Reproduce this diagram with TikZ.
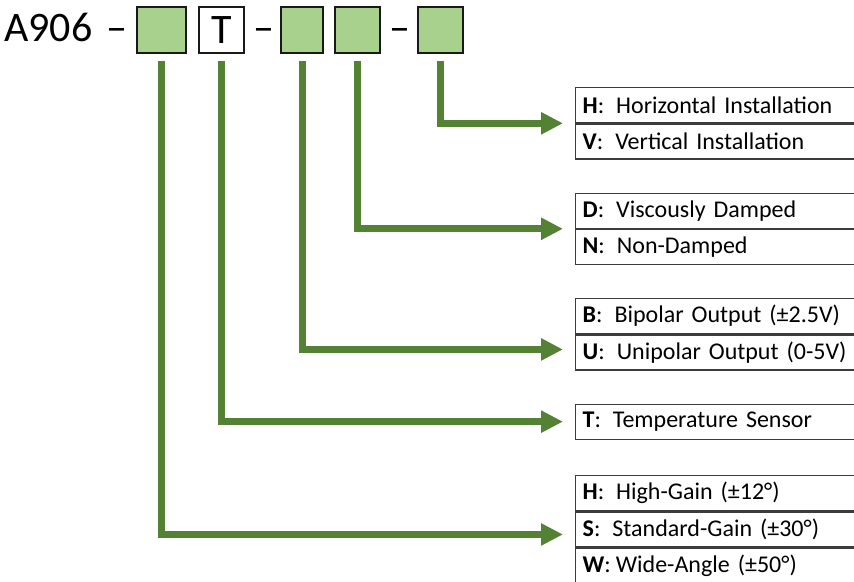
\documentclass[tikz,border=0pt]{standalone}
\usepackage{fontspec}
\setmainfont{Carlito}
\usetikzlibrary{arrows.meta}
\definecolor{boxgreen}{RGB}{169,209,142}
\definecolor{linegreen}{RGB}{84,130,53}
\definecolor{rowline}{RGB}{60,60,60}
\newcommand{\optlabel}[3][12pt]{\textbf{#2}:\hspace{#1}#3}
\tikzset{
  topbox/.style={draw=black!90, line width=2pt, minimum height=46pt, inner sep=0pt},
  gbox/.style={topbox, fill=boxgreen},
  bigtext/.style={font=\fontsize{42pt}{42pt}\selectfont, inner sep=0pt, anchor=base},
  row/.style={draw=rowline, line width=1.3pt, anchor=north west, minimum height=35pt,
    text width=292pt, inner xsep=7pt, inner ysep=0pt, align=left,
    font=\fontsize{24pt}{26pt}\selectfont},
  conn/.style={draw=linegreen, line width=7pt, shorten <=7pt, shorten >=12pt,
    -{Triangle[length=22pt,width=21pt]}}
}
\begin{document}
\begin{tikzpicture}[x=1pt,y=-1pt]
\path[use as bounding box, clip] (0,0) rectangle (854,581);
% header
\node[bigtext, anchor=base west] (code) at (4,41) {A906};
\node[bigtext] (d1) at (117,41) {–};
\node[gbox, minimum width=49pt] (b1) at (161.5,30) {};
\node[topbox, minimum width=45pt, font=\fontsize{42pt}{42pt}\selectfont] (bT) at (221.5,30) {T};
\node[bigtext] (d2) at (264,41) {–};
\node[gbox, minimum width=42pt] (b3) at (302,30) {};
\node[gbox, minimum width=45pt] (b4) at (357.5,30) {};
\node[bigtext] (d3) at (400,41) {–};
\node[gbox, minimum width=45pt] (b5) at (440.5,30) {};
% option tables
\node[row] (h1) at (575,87) {\optlabel{H}{Horizontal Installation}};
\node[row] (v1) at (h1.south west) {\optlabel{V}{Vertical Installation}};
\node[row] (dd) at (575,192.5) {\optlabel{D}{Viscously Damped}};
\node[row] (nn) at (dd.south west) {\optlabel{N}{Non-Damped}};
\node[row] (bb) at (575,298) {\optlabel{B}{Bipolar Output (±2.5V)}};
\node[row] (uu) at (bb.south west) {\optlabel{U}{Unipolar Output (0-5V)}};
\node[row] (tt) at (575,403.5) {\optlabel{T}{Temperature Sensor}};
\node[row] (hh) at (575,475) {\optlabel{H}{High-Gain (±12°)}};
\node[row] (ss) at (hh.south west) {\optlabel{S}{Standard-Gain (±30°)}};
\node[row] (ww) at (ss.south west) {\optlabel[5pt]{W}{Wide-Angle (±50°)}};
% connectors
\draw[conn] (b5.south) |- (h1.south west);
\draw[conn] (b4.south) |- (dd.south west);
\draw[conn] (b3.south) |- ([yshift=3pt]uu.west);
\draw[conn] (bT.south) |- (tt.west);
\draw[conn] (b1.south) |- ([yshift=-5pt]ss.west);
\end{tikzpicture}
\end{document}
